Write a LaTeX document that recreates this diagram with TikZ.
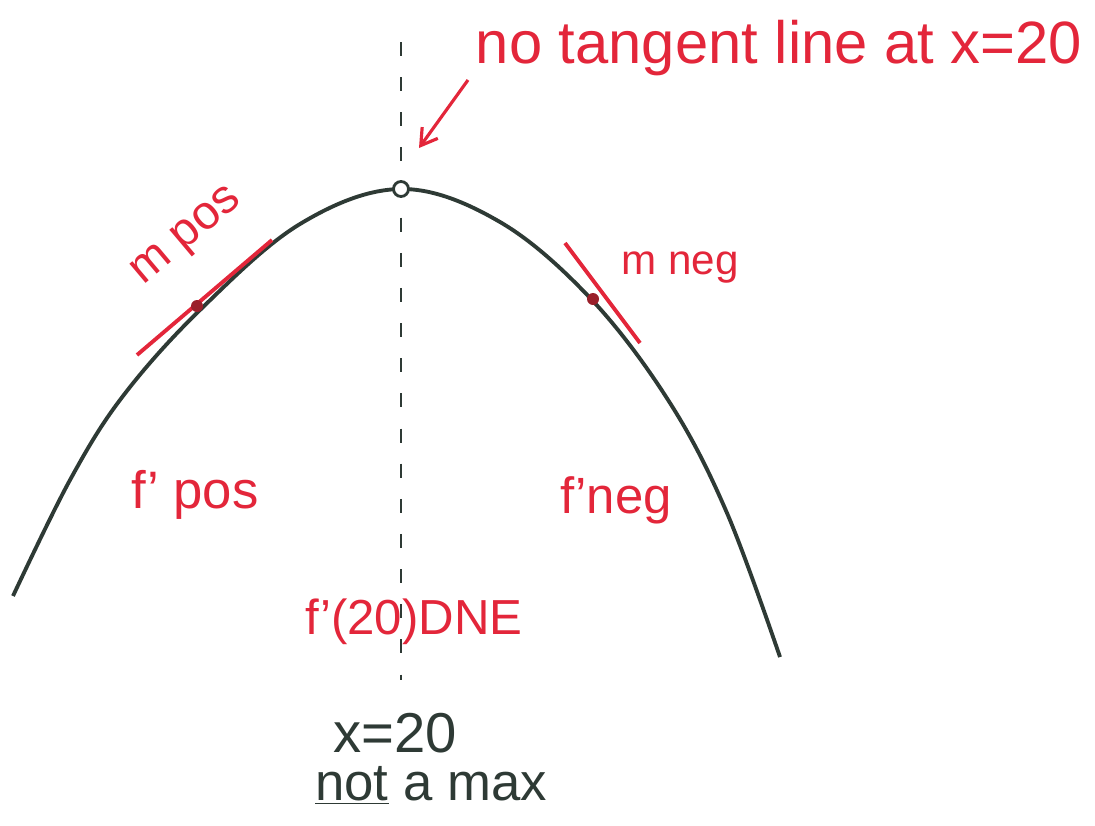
\documentclass[tikz,border=0pt]{standalone}
\usepackage{fontspec}
\setmainfont{Liberation Sans}
\usetikzlibrary{arrows.meta}
\definecolor{penRed}{HTML}{E3263A}
\definecolor{penDark}{HTML}{2E3A35}
\definecolor{dotRed}{HTML}{9A1F2A}

\begin{document}
\begin{tikzpicture}[x=0.02cm,y=-0.02cm]
  \useasboundingbox (0,0) rectangle (1095,825);
  % curve and the line x=20
  \coordinate (top) at (401,42);
  \coordinate (bot) at (401,680);
  \draw[penDark,line width=1.2pt,dash pattern=on 8pt off 12pt] (top) -- (bot);
  \draw[penDark,line width=2.2pt] plot[smooth,tension=0.6] coordinates {(13,596) (70,480) (123,396) (200,310) (300,224) (401,189) (500,222) (592,300) (670,403) (727,513) (780,657)};
  \node[draw=penDark,fill=white,circle,line width=1.6pt,minimum size=0.3cm,inner sep=0pt] (peak) at (401,189) {};
  % tangent lines
  \coordinate (lp) at (197,306);
  \coordinate (la) at (137,355);
  \coordinate (lb) at (272,240);
  \coordinate (rp) at (593,299);
  \coordinate (ra) at (565,243);
  \coordinate (rb) at (640,343);
  \draw[penRed,line width=2.2pt] (la) -- (lb);
  \draw[penRed,line width=2.2pt] (ra) -- (rb);
  \fill[dotRed] (lp) circle (6);
  \fill[dotRed] (rp) circle (6);
  % labels
  \node[text=penRed,font=\fontsize{34}{38}\selectfont,inner sep=0pt] (notan) at (779,48) {no tangent line at x=20};
  \coordinate (arrs) at (468,80);
  \coordinate (arr) at (419,148);
  \draw[-{Straight Barb[length=9pt,width=11pt]},penRed,line width=1.8pt] (arrs) -- (arr);
  \node[text=penRed,font=\fontsize{27}{30}\selectfont,inner sep=0pt,rotate=40] (mpos) at (188,238) {m pos};
  \node[text=penRed,font=\fontsize{24}{28}\selectfont,inner sep=0pt] (mneg) at (680,268) {m neg};
  \node[text=penRed,font=\fontsize{30}{34}\selectfont,inner sep=0pt] (fpos) at (195,495) {f' pos};
  \node[text=penRed,font=\fontsize{29}{32}\selectfont,inner sep=0pt] (fneg) at (616,500) {f'neg};
  \node[text=penRed,font=\fontsize{28}{32}\selectfont,inner sep=0pt] (dne) at (414,622) {f'(20)DNE};
  \node[text=penDark,font=\fontsize{32}{36}\selectfont,inner sep=0pt] (xtw) at (395,733) {x=20};
  \node[text=penDark,font=\fontsize{30}{34}\selectfont,inner sep=0pt] (notmax) at (431,785) {\underline{not} a max};
\end{tikzpicture}
\end{document}
